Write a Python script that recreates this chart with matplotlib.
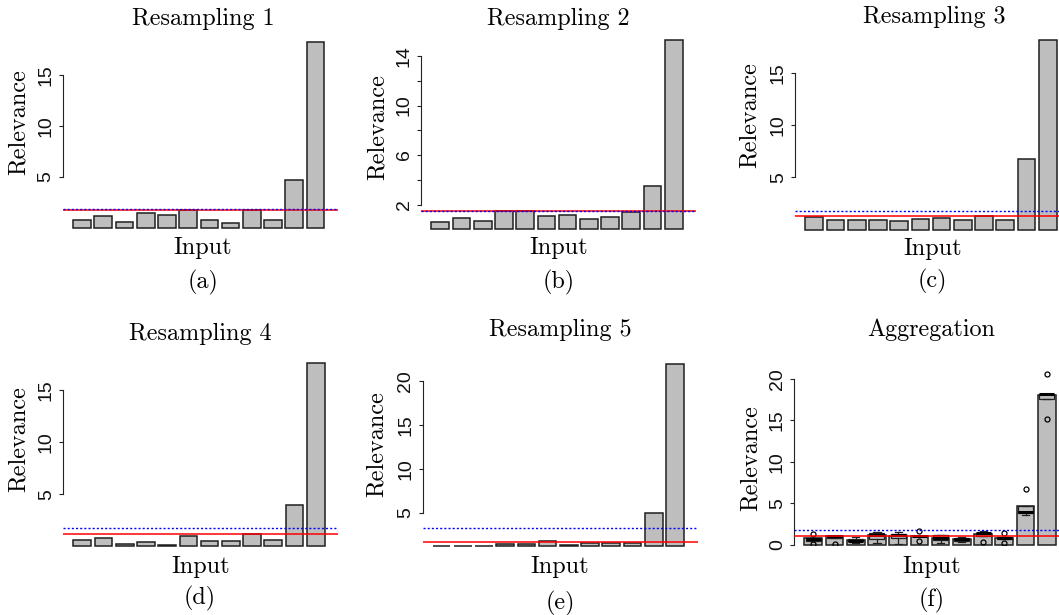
"""Relevance per input for five resamplings and their aggregation."""

import matplotlib

matplotlib.use("Agg")
import matplotlib.pyplot as plt
import numpy as np

W, H = 1059, 615

BAR_GRAY = "#bebebe"
EDGE = "#1f1f1f"

TITLES = ["Resampling 1", "Resampling 2", "Resampling 3",
          "Resampling 4", "Resampling 5", "Aggregation"]
TAGS = ["(a)", "(b)", "(c)", "(d)", "(e)", "(f)"]

# relevance of the 12 inputs in each resampling
REL_1 = [0.78, 1.18, 0.53, 1.44, 1.25, 1.74, 0.75, 0.49, 1.74, 0.75, 4.71, 18.2]
REL_2 = [0.59, 0.92, 0.65, 1.46, 1.49, 1.08, 1.16, 0.86, 1.03, 1.43, 3.51, 15.27]
REL_3 = [1.23, 0.97, 0.97, 0.97, 0.81, 1.04, 1.16, 0.88, 1.33, 0.91, 6.79, 18.16]
REL_4 = [0.64, 0.77, 0.26, 0.45, 0.16, 1.03, 0.51, 0.51, 1.22, 0.64, 3.94, 17.6]
REL_5 = [1.24, 1.24, 1.24, 1.40, 1.40, 1.78, 1.32, 1.51, 1.55, 1.51, 5.0, 21.9]

# aggregation: bar heights plus box statistics over resamplings
AGG_BARS = [0.75, 1.0, 0.6, 1.2, 1.1, 1.05, 0.85, 0.7, 1.3, 0.85, 4.7, 18.0]
AGG_MED = [0.70, 1.00, 0.50, 1.15, 1.15, 1.05, 0.80, 0.65, 1.35, 0.80, 3.95, 18.1]
AGG_Q1 = [0.45, 0.75, 0.40, 0.65, 0.75, 1.00, 0.60, 0.50, 1.10, 0.65, 3.85, 17.6]
AGG_Q3 = [0.80, 1.05, 0.65, 1.45, 1.25, 1.10, 1.20, 0.85, 1.40, 0.90, 4.70, 18.2]
AGG_LO = [0.45, 0.75, 0.15, 0.15, 0.10, 1.00, 0.20, 0.30, 1.10, 0.65, 3.55, 17.6]
AGG_HI = [0.80, 1.05, 0.95, 1.50, 1.50, 1.10, 1.20, 0.90, 1.70, 0.90, 4.70, 18.2]
AGG_OUT = [[1.25, 0.05], [0.05], [], [], [], [1.65, 0.45], [], [], [0.3],
           [1.35, 0.25], [6.75], [20.6, 15.2]]

# thresholds: red solid and blue dotted
RED = [1.70, 1.49, 1.33, 1.15, 1.63, 1.08]
BLUE = [1.80, 1.51, 1.81, 1.76, 3.22, 1.81]

# y axis
Y_LOW = [0.0, 0.0, 0.0, 0.0, 1.21, 0.0]
Y_HIGH = [18.2, 15.27, 18.16, 17.6, 21.9, 21.0]
TICKS = [[5, 10, 15], [2, 4, 6, 8, 10, 12, 14], [5, 10, 15],
         [5, 10, 15], [5, 10, 15, 20], [0, 5, 10, 15, 20]]
TICK_LABELS = [["5", "10", "15"], ["2", "", "6", "", "10", "", "14"],
               ["5", "10", "15"], ["5", "10", "15"],
               ["5", "10", "15", "20"], ["0", "5", "10", "15", "20"]]

# layout in pixels: axes left, axes bottom, axes top
AX_PX = [(63, 227.7, 42.0), (421.3, 229.3, 40.3), (795.3, 229.7, 39.7),
         (63.3, 546.3, 363.0), (422.5, 546.0, 364.3), (794.3, 544.7, 370.4)]
AX_W = 275
# text centres: title, "Input", tag, "Relevance"
TXT_PX = [
    ((203, 19), (203, 248), (203, 282), (19, 121.7)),
    ((558.3, 19), (558.8, 247.5), (558.5, 282), (378, 127.5)),
    ((934.3, 17), (932.7, 249.3), (932.7, 281.7), (749.3, 115)),
    ((200, 334), (200.5, 566.7), (200, 598.3), (19, 439.2)),
    ((560.2, 330), (560, 566.7), (560, 603), (376.3, 444.2)),
    ((931.5, 330), (931.8, 566.7), (932, 600), (750.3, 458.3)),
]

SERIF = "cmr10"
SANS = "Liberation Sans"
TXT_SIZE = 17.4
TICK_SIZE = 14


def fx(x):
    return x / W


def fy(y):
    return 1 - y / H


def draw_panel(fig, idx, values):
    left, bot, top = AX_PX[idx]
    ax = fig.add_axes([fx(left), fy(bot), AX_W / W, (bot - top) / H])
    ax.patch.set_alpha(0)

    n = len(values)
    centers = 0.7 + 1.2 * np.arange(n)
    lo = Y_LOW[idx]
    heights = np.array(values) - lo
    bars = ax.bar(centers, heights, width=1.0, bottom=lo, color=BAR_GRAY,
                  edgecolor=EDGE, linewidth=1.1, zorder=2)
    for b in bars:
        b.set_clip_on(False)

    if idx == 5:
        stats = []
        for i in range(n):
            stats.append(dict(med=AGG_MED[i], q1=AGG_Q1[i], q3=AGG_Q3[i],
                              whislo=AGG_LO[i], whishi=AGG_HI[i],
                              fliers=AGG_OUT[i]))
        ax.bxp(stats, positions=centers, widths=0.85, patch_artist=True,
               manage_ticks=False, zorder=3,
               boxprops=dict(facecolor=BAR_GRAY, edgecolor=EDGE, linewidth=0.9),
               medianprops=dict(color="black", linewidth=2.2),
               whiskerprops=dict(color=EDGE, linewidth=0.9),
               capprops=dict(color=EDGE, linewidth=0.9),
               capwidths=0.4,
               flierprops=dict(marker="o", markersize=3.6, markerfacecolor="none",
                               markeredgecolor="black", markeredgewidth=0.9))

    ax.axhline(RED[idx], color="red", linewidth=1.1, zorder=4)
    ax.axhline(BLUE[idx], color="blue", linewidth=1.0, linestyle=(0, (1.5, 1.5)),
               zorder=4)

    span = (0.2 + 1.2 * n) - 0.2
    ax.set_xlim(0.2 - 0.04 * span, 0.2 + 1.2 * n + 0.04 * span)
    ax.set_ylim(lo, Y_HIGH[idx])

    for side in ("top", "right", "bottom"):
        ax.spines[side].set_visible(False)
    ax.spines["left"].set_bounds(TICKS[idx][0], TICKS[idx][-1])
    ax.spines["left"].set_color("#222222")
    ax.spines["left"].set_linewidth(0.8)
    ax.set_xticks([])
    ax.set_yticks(TICKS[idx])
    ax.set_yticklabels(TICK_LABELS[idx], rotation=90, va="center",
                       fontfamily=SANS, fontsize=TICK_SIZE, color="#111111")
    ax.tick_params(axis="y", length=3.0, width=0.8, color="#222222", pad=3.0)

    (tx, ty), (ix, iy), (gx, gy), (rx, ry) = TXT_PX[idx]
    fig.text(fx(tx), fy(ty), TITLES[idx], ha="center", va="center",
             fontfamily=SERIF, fontsize=TXT_SIZE)
    fig.text(fx(ix), fy(iy), "Input", ha="center", va="center",
             fontfamily=SERIF, fontsize=TXT_SIZE)
    fig.text(fx(gx), fy(gy), TAGS[idx], ha="center", va="center",
             fontfamily=SERIF, fontsize=TXT_SIZE)
    fig.text(fx(rx), fy(ry), "Relevance", ha="center", va="center",
             rotation=90, fontfamily=SERIF, fontsize=TXT_SIZE)


def main() -> None:
    plt.rcParams["axes.formatter.use_mathtext"] = True
    fig = plt.figure(figsize=(W / 100, H / 100), dpi=100)
    fig.patch.set_facecolor("white")

    series = [REL_1, REL_2, REL_3, REL_4, REL_5, AGG_BARS]
    for idx, values in enumerate(series):
        draw_panel(fig, idx, values)

    fig.savefig("out.png", dpi=100)
    plt.close(fig)


if __name__ == "__main__":
    main()
